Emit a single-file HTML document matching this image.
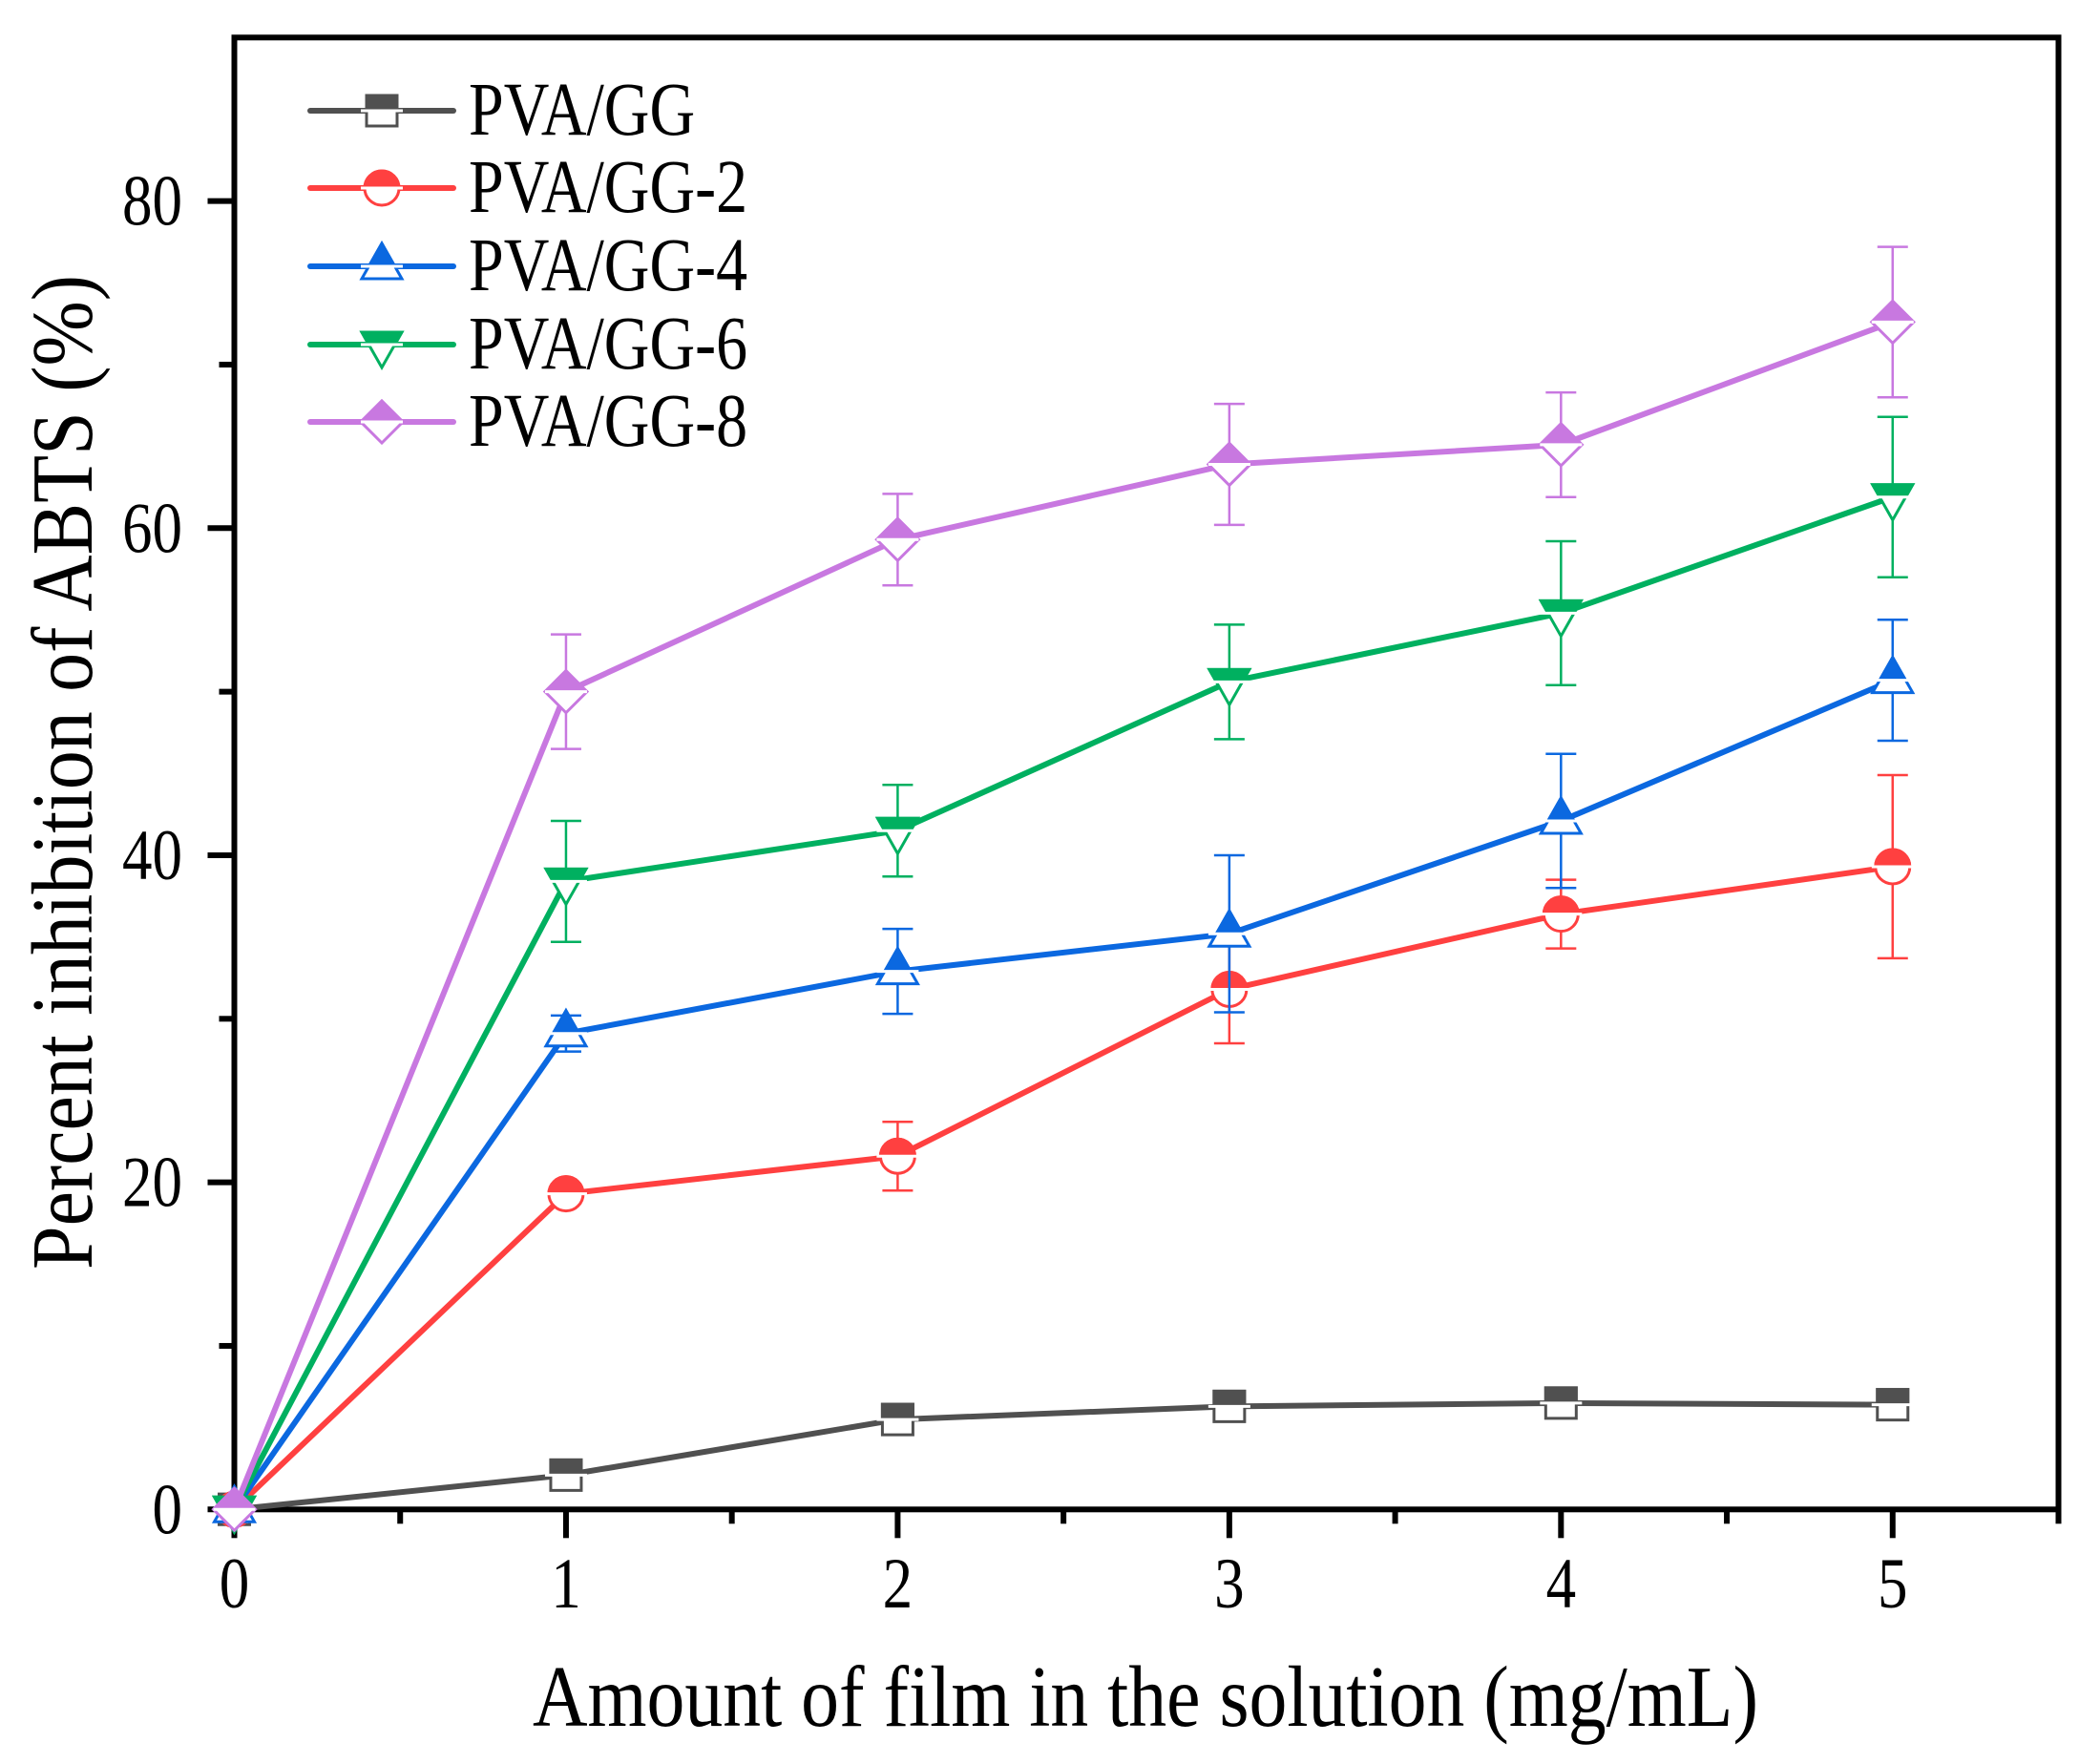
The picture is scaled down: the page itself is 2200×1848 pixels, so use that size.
<!DOCTYPE html>
<html><head><meta charset="utf-8"><style>
html,body{margin:0;padding:0;background:#fff;}
svg{display:block;font-family:"Liberation Serif","Times New Roman",serif;}
</style></head><body>
<svg id="chart" width="2200" height="1848" viewBox="0 0 2200 1848" xmlns="http://www.w3.org/2000/svg">
<rect width="2200" height="1848" fill="#fff"/>
<g id="plot"></g>
</svg>
<script>
const xValues = [0, 1, 2, 3, 4, 5];
const seriesNames = ["PVA/GG", "PVA/GG-2", "PVA/GG-4", "PVA/GG-6", "PVA/GG-8"];
const valsGG  = [0, 2.1, 5.5, 6.3, 6.5, 6.4];
const valsGG2 = [0, 19.3, 21.6, 31.8, 36.4, 39.3];
const valsGG4 = [0, 29.1, 32.9, 35.2, 42.1, 50.7];
const valsGG6 = [0, 38.4, 41.5, 50.6, 54.8, 61.9];
const valsGG8 = [0, 50.0, 59.3, 63.9, 65.1, 72.6];
const errGG  = [0, 0.4, 0.4, 0.4, 0.4, 0.4];
const errGG2 = [0, 0.6, 2.1, 3.3, 2.1, 5.6];
const errGG4 = [0, 1.1, 2.6, 4.8, 4.1, 3.7];
const errGG6 = [0, 3.7, 2.8, 3.5, 4.4, 4.9];
const errGG8 = [0, 3.5, 2.8, 3.7, 3.2, 4.6];
const yTicks = [0, 20, 40, 60, 80];
const xTicks = [0, 1, 2, 3, 4, 5];

const NS = "http://www.w3.org/2000/svg";
const L = 245.5, R = 2156.5, T = 39.3, B = 1581.3;
const XMAX = 5.5, YMAX = 90;
const xs = v => L + v / XMAX * (R - L);
const ys = v => B - v / YMAX * (B - T);
const g = document.getElementById('plot');
function mk(tag, attrs, parent) {
  const e = document.createElementNS(NS, tag);
  for (const k in attrs) e.setAttribute(k, attrs[k]);
  (parent || g).appendChild(e);
  return e;
}
const SY = 1.2;
function txt(x, y, size, anchor, parent, extra) {
  const attrs = {x: 0, y: 0, 'font-size': size, 'text-anchor': anchor, transform: `translate(${x},${y}) scale(1,${SY})`};
  if (extra) Object.assign(attrs, extra);
  return mk('text', attrs, parent);
}

const colors = ["#505050", "#ff4040", "#0b68e0", "#00b060", "#c878e0"];
const shapes = ["square", "circle", "up", "down", "diamond"];
const vals = [valsGG, valsGG2, valsGG4, valsGG6, valsGG8];
const errs = [errGG, errGG2, errGG4, errGG6, errGG8];

function shapePath(shape, cx, cy) {
  if (shape === "square") { const s = 16; return `M${cx-s},${cy-s}H${cx+s}V${cy+s}H${cx-s}Z`; }
  if (shape === "circle") { const r = 18; return `M${cx-r},${cy}A${r},${r} 0 1,1 ${cx+r},${cy}A${r},${r} 0 1,1 ${cx-r},${cy}Z`; }
  if (shape === "up") { return `M${cx},${cy-24}L${cx+21},${cy+13}H${cx-21}Z`; }
  if (shape === "down") { return `M${cx},${cy+24}L${cx+21},${cy-13}H${cx-21}Z`; }
  return `M${cx},${cy-22}L${cx+22},${cy}L${cx},${cy+22}L${cx-22},${cy}Z`;
}
let clipId = 0;
const defs = mk('defs', {});
function marker(shape, cx, cy, color, parent, name) {
  const grp = mk('g', {}, parent);
  
  
  const id = 'c' + (clipId++);
  const cp = mk('clipPath', {id: id}, defs);
  mk('rect', {x: cx - 40, y: cy - 40, width: 80, height: 40}, cp);
  const d = shapePath(shape, cx, cy);
  mk('path', {d: d, fill: '#fff', stroke: color, 'stroke-width': 3}, grp);
  mk('path', {d: d, fill: color, stroke: color, 'stroke-width': 3, 'clip-path': `url(#${id})`}, grp);
  mk('line', {x1: cx - 22, x2: cx + 22, y1: cy, y2: cy, stroke: '#fff', 'stroke-width': 3}, grp);
}

const frame = mk('rect', {x: L, y: T, width: R - L, height: B - T, fill: 'none', stroke: '#000', 'stroke-width': 6});



for (let v = 0; v <= 80; v += 10) {
  const major = v % 20 === 0;
  const t = mk('line', {x1: L - (major ? 28 : 16), x2: L, y1: ys(v), y2: ys(v), stroke: '#000', 'stroke-width': 6});
  
  
}
yTicks.forEach(v => {
  const t = txt(191, ys(v) + 25, 63, 'end');
  t.textContent = v;
  
  
});
for (let v = 0; v <= 5.5; v += 0.5) {
  const major = Math.abs(v - Math.round(v)) < 1e-9;
  const t = mk('line', {x1: xs(v), x2: xs(v), y1: B, y2: B + (major ? 30 : 15), stroke: '#000', 'stroke-width': 6});
  
  
}
xTicks.forEach(v => {
  const t = txt(xs(v), 1684, 63, 'middle');
  t.textContent = v;
  
  
});

const xt = txt(1200, 1808, 76, 'middle', null, {textLength: 1284, lengthAdjust: 'spacingAndGlyphs'});
xt.textContent = 'Amount of film in the solution (mg/mL)';


const yt = mk('text', {x: 0, y: 0, 'font-size': 76, 'text-anchor': 'middle', textLength: 1042, lengthAdjust: 'spacingAndGlyphs', transform: 'translate(96,809) rotate(-90) scale(1,1.2)'});
yt.textContent = 'Percent inhibition of  ABTS (%)';



vals.forEach((arr, si) => {
  const c = colors[si];
  const sg = mk('g', {});
  
  
  arr.forEach((v, i) => {
    const e = errs[si][i];
    if (!e) return;
    const x = xs(xValues[i]);
    const eb = mk('g', {stroke: c, 'stroke-width': 2.5}, sg);
    
    
    mk('line', {x1: x, x2: x, y1: ys(v + e), y2: ys(v - e)}, eb);
    mk('line', {x1: x - 16, x2: x + 16, y1: ys(v + e), y2: ys(v + e)}, eb);
    mk('line', {x1: x - 16, x2: x + 16, y1: ys(v - e), y2: ys(v - e)}, eb);
  });
  const pts = arr.map((v, i) => xs(xValues[i]) + ',' + ys(v)).join(' ');
  const pl = mk('polyline', {points: pts, fill: 'none', stroke: c, 'stroke-width': 6, 'stroke-linejoin': 'round'}, sg);
  
  
  arr.forEach((v, i) => marker(shapes[si], xs(xValues[i]), ys(v), c, sg, 'data-point'));
});

const lg = mk('g', {});


const rowsY = [116, 197, 279, 361, 442];
seriesNames.forEach((n, si) => {
  const y = rowsY[si];
  const eg = mk('g', {}, lg);
  
  
  mk('line', {x1: 325, x2: 475, y1: y, y2: y, stroke: colors[si], 'stroke-width': 6, 'stroke-linecap': 'round'}, eg);
  marker(shapes[si], 400, y, colors[si], eg, 'legend-marker');
  const t = txt(491, y + 25, 66, 'start', eg);
  t.textContent = n;
  
  
});
</script>
</body></html>
